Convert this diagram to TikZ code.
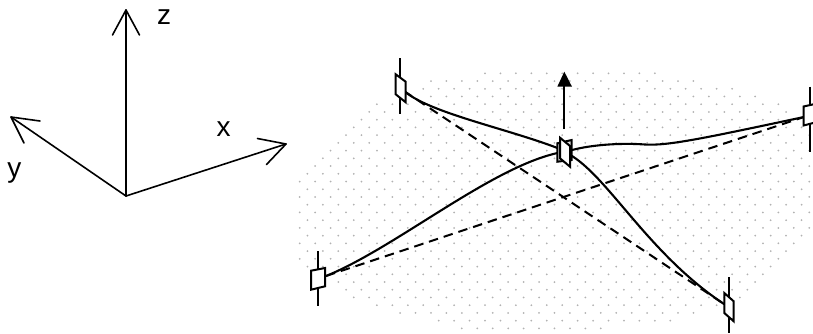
\documentclass[tikz,border=0pt]{standalone}
\usepackage{fontspec}
\setmainfont{Liberation Sans}
\usetikzlibrary{calc}
\tikzset{
  axis/.style={line width=1.6*0.75pt,line cap=round,line join=round},
  wire/.style={line width=2.1*0.75pt,line cap=round},
  chord/.style={line width=2*0.75pt,dash pattern=on 9.5*0.75pt off 6*0.75pt},
  post/.style={line width=2.1*0.75pt},
  plate/.style={draw=black,fill=white,line width=2*0.75pt,line join=miter},
  axlabel/.style={font=\fontsize{21pt}{22pt}\selectfont,inner sep=0pt},
  dotmark/.style={fill=black!30,draw=none}
}
\begin{document}
\begin{tikzpicture}[x=0.75pt,y=-0.75pt]
\useasboundingbox (0,0) rectangle (813,333);
\clip (0,0) rectangle (813,333);
% dotted membrane: row index / left limit / right limit
\foreach \k/\lo/\hi in {0/485/655,1/431/693,2/423/732,3/431/755,4/377/778,5/369/786,6/361/801,7/353/813,8/346/813,9/338/813,10/330/813,11/322/813,12/315/813,13/307/813,14/299/813,15/299/813,16/299/813,17/299/813,18/299/813,19/299/813,20/299/808,21/307/800,22/299/793,23/307/785,24/299/778,25/307/770,26/330/762,27/338/755,28/346/747,29/354/739,30/377/717,31/400/693,32/438/670,33/462/602}{
  \pgfmathsetmacro{\yy}{73.3+7.73*\k}
  \pgfmathsetmacro{\xo}{485+7.72*mod(\k,2)}
  \foreach \n in {-14,...,22}{
    \pgfmathsetmacro{\xx}{\xo+15.44*\n}
    \pgfmathparse{(\xx>=\lo-3 && \xx<=\hi+3) ? 1 : 0}
    \ifnum\pgfmathresult=1
      \fill[dotmark] (\xx,\yy) circle[radius=1];
    \fi
  }
}
% axes
\coordinate (O) at (126,196);
\coordinate (Z) at (126,10);
\coordinate (Y) at (11,117);
\coordinate (X) at (286,144);
\draw[axis] (O) -- (Z);
\draw[axis] (O) -- (Y);
\draw[axis] (O) -- (X);
\draw[axis] (112.5,35) -- (Z) -- (139.5,35);
\draw[axis] (40,121) -- (Y) -- (24,143);
\draw[axis] (257.5,138.5) -- (X) -- (266.5,164.5);
\node[axlabel] (lz) at (164,17) {z};
\node[axlabel] (lx) at (223.7,129.5) {x};
\node[axlabel] (ly) at (14.3,173) {y};
% anchor coordinates
\coordinate (A) at (404,91);
\coordinate (B) at (326,276);
\coordinate (C) at (724,304);
\coordinate (D) at (804,117);
\coordinate (E1) at (557.5,148);
\coordinate (E2) at (572,150);
\coordinate (E3) at (557.5,153);
\coordinate (E4) at (572,156);
\coordinate (M) at (645,144.5);
% chords
\draw[chord] (A) -- (C);
\draw[chord] (B) -- (D);
% wires
\draw[wire] (A) .. controls (430,113) and (505,128) .. (E1);
\draw[wire] (E2) .. controls (595,144) and (625,143) .. (M) .. controls (668,146) and (705,138) .. (D);
\draw[wire] (B) .. controls (395,248) and (490,168) .. (E3);
\draw[wire] (E4) .. controls (610,180) and (650,255) .. (C);
% force arrow
\coordinate (Fa) at (564.3,129);
\coordinate (Fb) at (564.3,84);
\draw[line width=2.2*0.75pt] (Fa) -- (Fb);
\fill (564.3,71.7) -- (572,86.7) -- (557.3,86.7) -- cycle;
% posts and plates
\draw[post] (400.3,58) -- (400.3,114);
\filldraw[plate] (395.7,74.3) -- (405.7,81.7) -- (405.7,102.3) -- (395.7,94.3) -- cycle;
\draw[post] (317.7,251.3) -- (317.7,306.3);
\filldraw[plate] (311,270.7) -- (325,268) -- (325,286.3) -- (311,289.7) -- cycle;
\draw[post] (729.3,277.3) -- (729.3,333);
\filldraw[plate] (724.3,293) -- (733.7,301.3) -- (733.7,321.3) -- (724.3,313) -- cycle;
\draw[post] (810.3,86.7) -- (810.3,151.7);
\filldraw[plate] (803.5,106.5) -- (817,103.5) -- (817,122) -- (803.5,125.5) -- cycle;
% centre plates
\filldraw[plate,fill=black!12] (557.3,143.3) -- (571.7,140) -- (571.7,160) -- (557.3,161.7) -- cycle;
\filldraw[plate] (560,137.7) -- (570,146) -- (570,166.7) -- (560,158.3) -- cycle;
\end{tikzpicture}
\end{document}
